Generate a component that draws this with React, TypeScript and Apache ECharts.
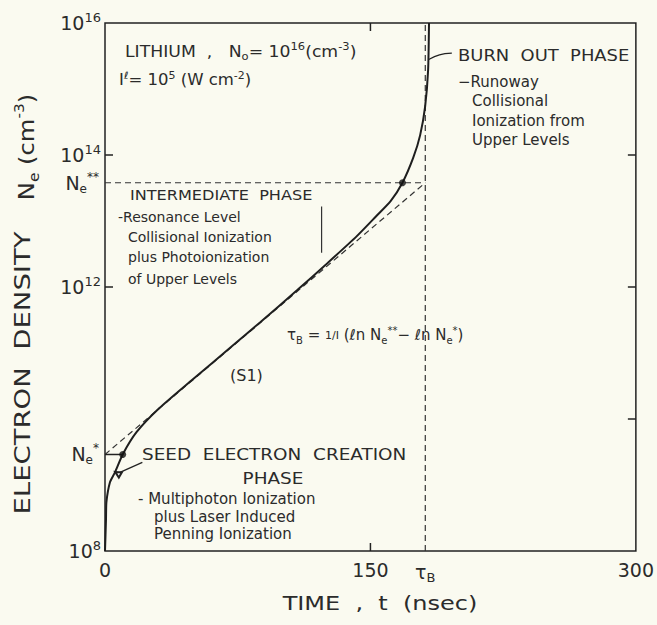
import React, { useEffect, useRef } from "react";
import * as echarts from "echarts";

// ---- data ----
const timeNs = [0, 0.56, 0.8, 2.8, 5.6, 10, 17.8, 30.6, 50, 71.2, 87.9, 108.5, 125.2, 141.9, 153.1, 161.4, 168.1, 174.2, 178.1, 180.9, 182.6, 183.1];
const electronDensity = [1.0e8, 3.0e8, 5.5e8, 1.1e9, 1.55e9, 2.9e9, 6.3e9, 1.45e10, 4.07e10, 1.23e11, 2.95e11, 8.9e11, 2.24e12, 5.75e12, 1.17e13, 2.0e13, 3.8e13, 9.1e13, 2.0e14, 5.4e14, 1.95e15, 1.0e16];

const tauB = 181;
const neStar = 2.9e9;
const neStarStar = 3.8e13;
const seedPointT = 10;
const intermediatePointT = 168.1;

const xMin = 0;
const xMax = 300;
const xInterval = 150;
const xLabelValues = [0, 150, tauB, 300];
const yMin = 1e8;
const yMax = 1e16;
const yLabelExponents = [8, 12, 14, 16];

const leftTicks = [1e14, 1e12];
const rightTicks = [1e14, 1e12, 1e10];
const bottomTicks = [150];
const topTicks = [150];

const burnOutPointer = [[182.9, 2.8e15], [189, 3.3e15], [196, 3.5e15]];
const intermediatePointer = [[122.4, 1.66e13], [122.4, 3.3e12]];
const seedPointer = [[21.1, 2.2e9], [7.2, 1.5e9]];

// ---- styling ----
const FONT = "DejaVu Sans";
const INK = "#2b2b2b";
const BG = "#fafaf0";

function rich(size: number) {
  return {
    b: { fontSize: size, lineHeight: Math.round(size * 1.3), fontFamily: FONT, fill: INK, color: INK },
    p: { fontSize: Math.round(size * 0.65), lineHeight: Math.round(size * 0.75), verticalAlign: "top", fontFamily: FONT, fill: INK, color: INK },
    s: { fontSize: Math.round(size * 0.65), lineHeight: Math.round(size * 0.75), verticalAlign: "bottom", fontFamily: FONT, fill: INK, color: INK },
    f: { fontSize: Math.round(size * 0.75), lineHeight: Math.round(size * 1.3), fontFamily: FONT, fill: INK, color: INK },
  };
}

function txt(x: number, y: number, text: string, size: number, extra: any = {}) {
  const { align, scaleX, rotation } = extra;
  return {
    type: "text",
    x,
    y,
    scaleX: scaleX ?? 1,
    rotation: rotation ?? 0,
    silent: true,
    style: {
      text,
      fontSize: size,
      fontFamily: FONT,
      lineHeight: Math.round(size * 1.3),
      fill: INK,
      align: align ?? "left",
      verticalAlign: "middle",
      rich: rich(size),
    },
  };
}

const tickMarks = [
  ...leftTicks.map((v) => [xMin, v, 0]),
  ...rightTicks.map((v) => [xMax, v, 1]),
  ...bottomTicks.map((v) => [v, yMin, 2]),
  ...topTicks.map((v) => [v, yMax, 3]),
];

const neLabels = [
  [xMin, neStarStar, 2],
  [xMin, neStar, 1],
];

const dashed = { color: "#333", width: 1.2, type: [6, 4] as any };

export default function App() {
  const ref = useRef<HTMLDivElement>(null);
  useEffect(() => {
    const chart = echarts.init(ref.current!, null, { renderer: "svg" });
    const option: any = {
      animation: false,
      backgroundColor: BG,
      textStyle: { fontFamily: FONT, color: INK },
      grid: { left: 105, right: 13, top: 23, bottom: 74, show: true, borderColor: "#222", borderWidth: 1.5, backgroundColor: "transparent" },
      xAxis: {
        type: "value",
        min: xMin,
        max: xMax,
        interval: xInterval,
        axisLine: { show: false },
        axisTick: { show: false },
        splitLine: { show: false },
        axisLabel: {
          customValues: xLabelValues,
          fontSize: 19,
          color: INK,
          margin: 9,
          fontFamily: FONT,
          formatter: (v: number) => (v === tauB ? "{t|τ}{s|B}" : String(v)),
          rich: {
            t: { fontSize: 19, lineHeight: 24, color: INK, fontFamily: FONT },
            s: { fontSize: 13, lineHeight: 12, verticalAlign: "bottom", color: INK, fontFamily: FONT },
          },
        },
      },
      yAxis: {
        type: "log",
        logBase: 10,
        min: yMin,
        max: yMax,
        axisLine: { show: false },
        axisTick: { show: false },
        splitLine: { show: false },
        axisLabel: {
          fontSize: 19,
          color: INK,
          margin: 4,
          fontFamily: FONT,
          formatter: (v: number) => {
            const e = Math.round(Math.log10(v));
            return yLabelExponents.includes(e) ? `{b|10}{p|${e}}` : "";
          },
          rich: {
            b: { fontSize: 19, lineHeight: 24, color: INK, fontFamily: FONT },
            p: { fontSize: 13, lineHeight: 13, verticalAlign: "top", color: INK, fontFamily: FONT },
          },
        },
      },
      series: [
        {
          name: "Ne(t)",
          type: "line",
          data: timeNs.map((t, i) => [t, electronDensity[i]]),
          smooth: 0.2,
          symbol: "none",
          lineStyle: { color: "#1e1e1e", width: 2 },
          z: 5,
        },
        {
          name: "Ne** level",
          type: "line",
          data: [[xMin, neStarStar], [tauB, neStarStar]],
          symbol: "none",
          lineStyle: dashed,
        },
        {
          name: "tauB",
          type: "line",
          data: [[tauB, yMin], [tauB, yMax]],
          symbol: "none",
          lineStyle: dashed,
        },
        {
          name: "S1 asymptote",
          type: "line",
          data: [[xMin, neStar], [tauB, neStarStar]],
          symbol: "none",
          lineStyle: dashed,
        },
        {
          name: "Ne* level",
          type: "line",
          data: [[xMin, neStar], [seedPointT, neStar]],
          symbol: "none",
          lineStyle: { color: "#222", width: 1.5 },
        },
        {
          name: "phase points",
          type: "scatter",
          data: [[seedPointT, neStar], [intermediatePointT, neStarStar]],
          symbol: "circle",
          symbolSize: 7,
          itemStyle: { color: "#111" },
          z: 6,
        },
        {
          name: "burn out pointer",
          type: "line",
          data: burnOutPointer,
          smooth: 0.4,
          symbol: "none",
          lineStyle: { color: "#222", width: 1.3 },
        },
        {
          name: "intermediate pointer",
          type: "line",
          data: intermediatePointer,
          symbol: "none",
          lineStyle: { color: "#333", width: 1.2 },
        },
        {
          name: "seed pointer",
          type: "line",
          data: [
            { value: seedPointer[0], symbol: "none" },
            { value: seedPointer[1], symbol: "emptyTriangle", symbolSize: 6, symbolRotate: 60 },
          ],
          showSymbol: true,
          lineStyle: { color: "#222", width: 1.3 },
          itemStyle: { color: "#222", borderColor: "#222" },
        },
        {
          name: "ticks",
          type: "custom",
          data: tickMarks,
          renderItem: (params: any, api: any) => {
            const p = api.coord([api.value(0), api.value(1)]);
            const d = api.value(2);
            const L = 8;
            const dx = d === 0 ? L : d === 1 ? -L : 0;
            const dy = d === 2 ? -L : d === 3 ? L : 0;
            return {
              type: "line",
              shape: { x1: p[0], y1: p[1], x2: p[0] + dx, y2: p[1] + dy },
              style: { stroke: "#222", lineWidth: 1.5 },
            };
          },
          z: 7,
        },
        {
          name: "Ne labels",
          type: "custom",
          data: neLabels,
          renderItem: (params: any, api: any) => {
            const p = api.coord([api.value(0), api.value(1)]);
            const stars = api.value(2) === 2 ? "**" : "*";
            return {
              type: "text",
              x: p[0] - 6,
              y: p[1],
              style: {
                text: `N{s|e}{p|${stars}}`,
                fontSize: 19,
                fontFamily: FONT,
                lineHeight: 24,
                fill: INK,
                align: "right",
                verticalAlign: "middle",
                rich: rich(19),
              },
            };
          },
          z: 7,
        },
      ],
      graphic: [
        txt(125, 52, "LITHIUM  ,   N{s|o}= 10{p|16}(cm{p|-3})", 15, { scaleX: 1.15 }),
        txt(119, 80, "I{p|ℓ}= 10{p|5} (W cm{p|-2})", 15, { scaleX: 1.1 }),
        txt(130, 195, "INTERMEDIATE  PHASE", 14, { scaleX: 1.15 }),
        txt(118, 217, "-Resonance Level", 14),
        txt(128, 237, "Collisional Ionization", 14),
        txt(128, 257, "plus Photoionization", 14),
        txt(128, 279, "of Upper Levels", 14),
        txt(458, 55, "BURN  OUT  PHASE", 16, { scaleX: 1.12 }),
        txt(458, 82, "−Runoway", 15),
        txt(472, 101, "Collisional", 15),
        txt(472, 121, "Ionization from", 15),
        txt(472, 140, "Upper Levels", 15),
        txt(287, 335, "τ{s|B} = {f|1/I} (ℓn N{s|e}{p|**}− ℓn N{s|e}{p|*})", 15),
        txt(230, 375, "(S1)", 16),
        txt(142, 454, "SEED  ELECTRON  CREATION", 16, { scaleX: 1.15 }),
        txt(273, 478, "PHASE", 16, { scaleX: 1.15, align: "center" }),
        txt(138, 499, "- Multiphoton Ionization", 15),
        txt(154, 517, "plus Laser Induced", 15),
        txt(154, 534, "Penning Ionization", 15),
        txt(380, 603, "TIME  ,  t  (nsec)", 20, { scaleX: 1.2, align: "center" }),
        txt(22, 373, "ELECTRON  DENSITY", 22, { scaleX: 1.25, align: "center", rotation: Math.PI / 2 }),
        txt(26, 147, "N{s|e} (cm{p|-3})", 22, { scaleX: 1.1, align: "center", rotation: Math.PI / 2 }),
      ],
    };
    chart.setOption(option);
    return () => chart.dispose();
  }, []);
  return <div ref={ref} style={{ position: "absolute", left: 0, top: 0, width: 657, height: 625 }} />;
}
